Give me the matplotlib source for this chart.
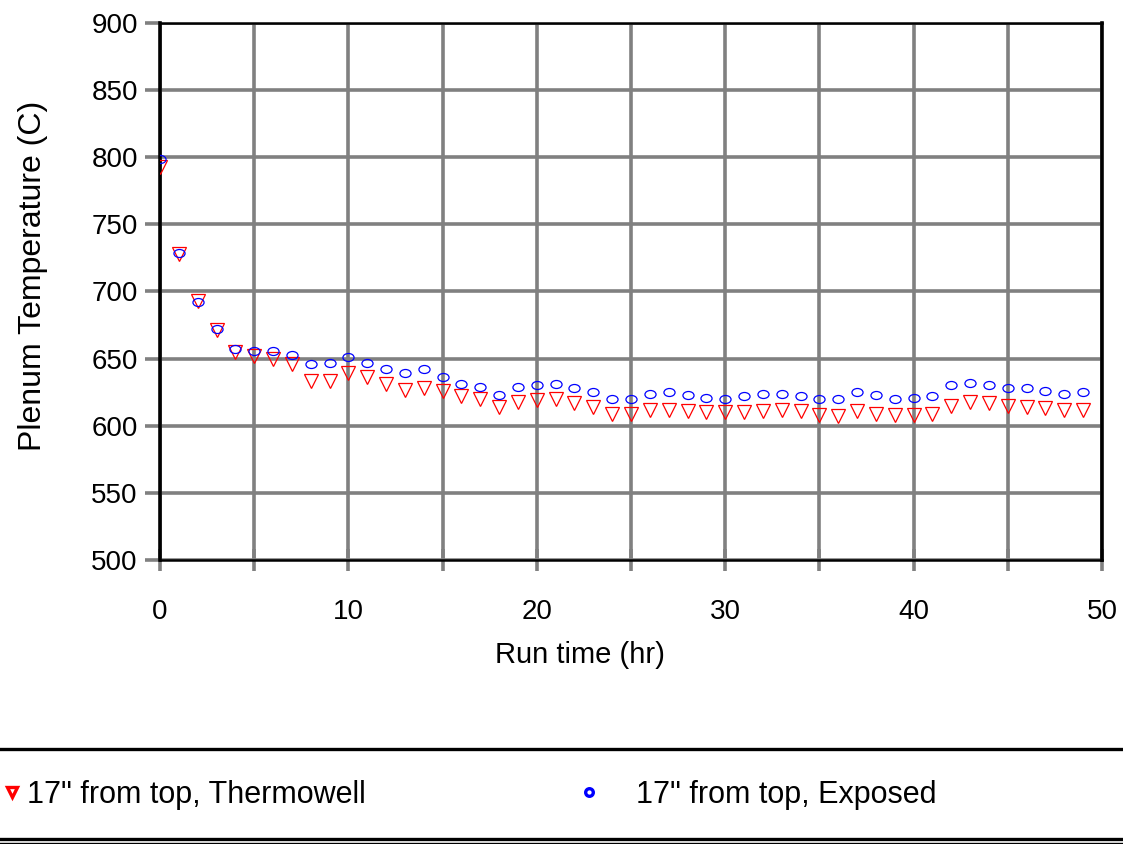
import matplotlib
matplotlib.use("Agg")
import matplotlib.pyplot as plt
from matplotlib.lines import Line2D
from matplotlib.path import Path
from matplotlib.transforms import Affine2D
from matplotlib.ticker import MultipleLocator

plt.rcParams['font.family'] = ['Liberation Sans', 'DejaVu Sans']

hours = list(range(50))
thermowell = [793, 728, 693, 671, 655, 652, 650, 646, 633, 633,
              639, 636, 631, 627, 628, 626, 622, 620, 614, 618,
              619, 620, 617, 614, 609, 609, 612, 612, 611, 610,
              610, 610, 611, 612, 611, 608, 607, 611, 609, 608,
              608, 609, 615, 618, 617, 615, 614, 613, 612, 612]
exposed = [799, 729, 692, 672, 657, 656, 656, 653, 646, 647,
           651, 647, 642, 639, 642, 636, 631, 629, 623, 629,
           630, 631, 628, 625, 620, 620, 624, 625, 623, 621,
           620, 622, 624, 624, 622, 620, 620, 625, 623, 620,
           621, 622, 630, 632, 630, 628, 628, 626, 624, 625]
labels = ['17" from top, Thermowell', '17" from top, Exposed']
x_ticks = [0, 10, 20, 30, 40, 50]
y_ticks = [500, 550, 600, 650, 700, 750, 800, 850, 900]

ellipse = Path.unit_circle().transformed(Affine2D().scale(1.0, 0.72))

fig = plt.figure(figsize=(11.23, 8.44), dpi=100)
ax = fig.add_axes([160/1123, 1-560/844, (1102-160)/1123, (560-23)/844])

grey = '#808080'
ax.set_xlim(0, 50)
ax.set_ylim(500, 900)
ax.set_xticks(x_ticks)
ax.xaxis.set_minor_locator(MultipleLocator(5))
ax.set_yticks(y_ticks)
ax.grid(True, which='both', axis='x', color=grey, linewidth=2.6, zorder=0)
ax.grid(True, which='major', axis='y', color=grey, linewidth=2.6, zorder=0)
ax.set_axisbelow(True)

ax.plot(hours, thermowell, linestyle='none', marker='v', markersize=9.5,
        markerfacecolor='none', markeredgecolor='#ff0000', markeredgewidth=0.9,
        zorder=3)
ax.plot(hours, exposed, linestyle='none', marker=ellipse, markersize=8.0,
        markerfacecolor='none', markeredgecolor='#0000ff', markeredgewidth=0.9,
        zorder=4)

for side in ['left', 'right']:
    ax.spines[side].set_linewidth(2.6)
    ax.spines[side].set_color('black')
for side in ['top', 'bottom']:
    ax.spines[side].set_linewidth(1.8)
    ax.spines[side].set_color('black')

ax.tick_params(axis='y', which='major', direction='out', length=11, width=2.6,
               color=grey, labelsize=20, pad=5)
ax.tick_params(axis='x', which='both', direction='inout', length=16, width=2.6,
               color=grey, labelsize=20, pad=20)
ax.tick_params(axis='x', which='minor', labelbottom=False)

ax.set_xlabel('Run time (hr)', fontsize=21)
ax.xaxis.set_label_coords((580-160)/942, -(641-560)/537)
ax.set_ylabel('Plenum Temperature (C)', fontsize=23)
ax.yaxis.set_label_coords(-112/942, (560-276)/537)

# legend separators
fig.add_artist(Line2D([0, 1], [1-749/844, 1-749/844], color='black', linewidth=2.4))
fig.add_artist(Line2D([0, 1], [1-839/844, 1-839/844], color='black', linewidth=2.4))
fig.add_artist(Line2D([0, 1], [1-843/844, 1-843/844], color='black', linewidth=1.0))

h_therm = Line2D([], [], linestyle='none', marker='v', markersize=7.5,
                 markerfacecolor='white', markeredgecolor='#ff0000', markeredgewidth=2.4)
h_exp = Line2D([], [], linestyle='none', marker='o', markersize=5.5,
               markerfacecolor='white', markeredgecolor='#0000ff', markeredgewidth=2.4)

fig.legend([h_therm], [labels[0]], loc='center left', bbox_to_anchor=(4/1123, 1-795/844),
           frameon=False, fontsize=22, handlelength=0.5, handletextpad=0.25,
           borderaxespad=0, borderpad=0)
fig.legend([h_exp], [labels[1]], loc='center left', bbox_to_anchor=(581/1123, 1-795/844),
           frameon=False, fontsize=22, handlelength=0.5, handletextpad=1.3,
           borderaxespad=0, borderpad=0)

fig.savefig('out.png', dpi=100)
